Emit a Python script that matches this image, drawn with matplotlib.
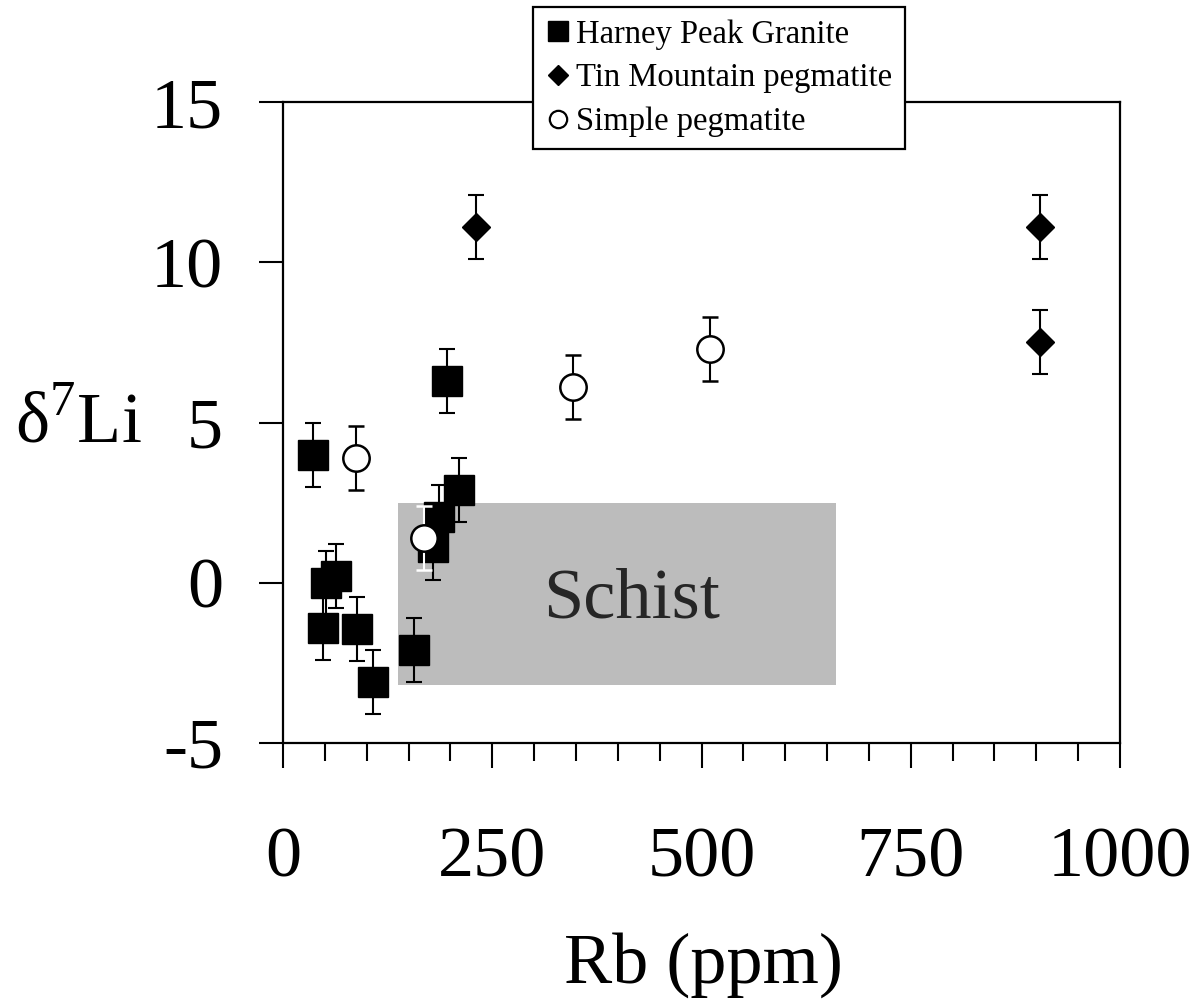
import numpy as np
from matplotlib import pyplot as plt
from matplotlib.lines import Line2D
from matplotlib.patches import Rectangle

plt.rcParams['font.family'] = ['Liberation Serif', 'DejaVu Serif']
plt.rcParams['mathtext.fontset'] = 'custom'
plt.rcParams['mathtext.rm'] = 'Liberation Serif'
plt.rcParams['axes.unicode_minus'] = False

# Harney Peak Granite
hpg_rb = [36, 51, 63, 48, 88, 108, 156, 179, 186, 210, 196]
hpg_li = [4.0, 0.0, 0.2, -1.4, -1.45, -3.1, -2.1, 1.1, 2.05, 2.9, 6.3]
# Tin Mountain pegmatite
tm_rb = [230, 904, 904]
tm_li = [11.1, 11.1, 7.5]
# Simple pegmatite
sp_rb = [87, 347, 510]
sp_li = [3.9, 6.1, 7.3]
sp2_rb = [169]
sp2_li = [1.4]
err = 1.0

schist_rb = (137, 661)
schist_li = (-3.2, 2.5)

fig = plt.figure(figsize=(12.02, 10.06), dpi=100)
ax = fig.add_axes([283/1202, 263/1006, 837/1202, 641/1006])

ax.add_patch(Rectangle((schist_rb[0], schist_li[0]), schist_rb[1]-schist_rb[0],
                       schist_li[1]-schist_li[0], facecolor='#bcbcbc', edgecolor='none', zorder=1))
ax.text(417, -0.55, 'Schist', fontsize=52, ha='center', va='center', color='#262626', zorder=2)

eb = dict(yerr=err, ecolor='black', elinewidth=1.5, capsize=5.5, capthick=1.5, linestyle='none')
ax.errorbar(hpg_rb, hpg_li, marker='s', ms=21, mfc='black', mec='black', zorder=3, **eb)
ax.errorbar(tm_rb, tm_li, marker='D', ms=14.5, mfc='black', mec='black', zorder=3, **eb)
ax.errorbar(sp_rb, sp_li, marker='o', ms=19, mfc='white', mec='black', mew=1.8, zorder=4, **eb)
eb['ecolor'] = 'white'
ax.errorbar(sp2_rb, sp2_li, marker='o', ms=19, mfc='white', mec='black', mew=1.8, zorder=5, **eb)

ax.set_xlim(0, 1000)
ax.set_ylim(-5, 15)
ax.set_xticks([0, 250, 500, 750, 1000])
ax.set_xticks(np.arange(0, 1001, 50), minor=True)
ax.set_yticks([-5, 0, 5, 10, 15])
ax.tick_params(axis='x', which='major', direction='out', length=18, width=1.5, labelsize=52, pad=42)
ax.tick_params(axis='x', which='minor', direction='out', length=13, width=1.5)
ax.tick_params(axis='y', which='major', direction='out', length=17, width=1.5, labelsize=52, pad=26)
for s in ax.spines.values():
    s.set_linewidth(1.6)

fig.text(703/1202, 1 - 983/1006, 'Rb (ppm)', fontsize=52, ha='center', va='baseline')
fig.text(15/1202, 1 - 442/1006, r'$\mathrm{\delta}^{7}$Li', fontsize=52, ha='left', va='baseline')

handles = [Line2D([], [], marker='s', ms=15, color='black', linestyle='none'),
           Line2D([], [], marker='D', ms=10.5, color='black', linestyle='none'),
           Line2D([], [], marker='o', ms=12.5, mfc='white', mec='black', mew=1.6, linestyle='none')]
labels = ['Harney Peak Granite', 'Tin Mountain pegmatite', 'Simple pegmatite']
leg = fig.legend(handles, labels, loc='upper left', bbox_to_anchor=(533/1202, 1 - 7/1006),
                 fontsize=23.5, frameon=True, fancybox=False, framealpha=1, edgecolor='black',
                 handlelength=0.75, handletextpad=0.2, labelspacing=0.4, borderpad=0.38,
                 borderaxespad=0)
leg.get_frame().set_linewidth(1.6)
leg.set_zorder(10)

fig.savefig('out.png', dpi=100)
